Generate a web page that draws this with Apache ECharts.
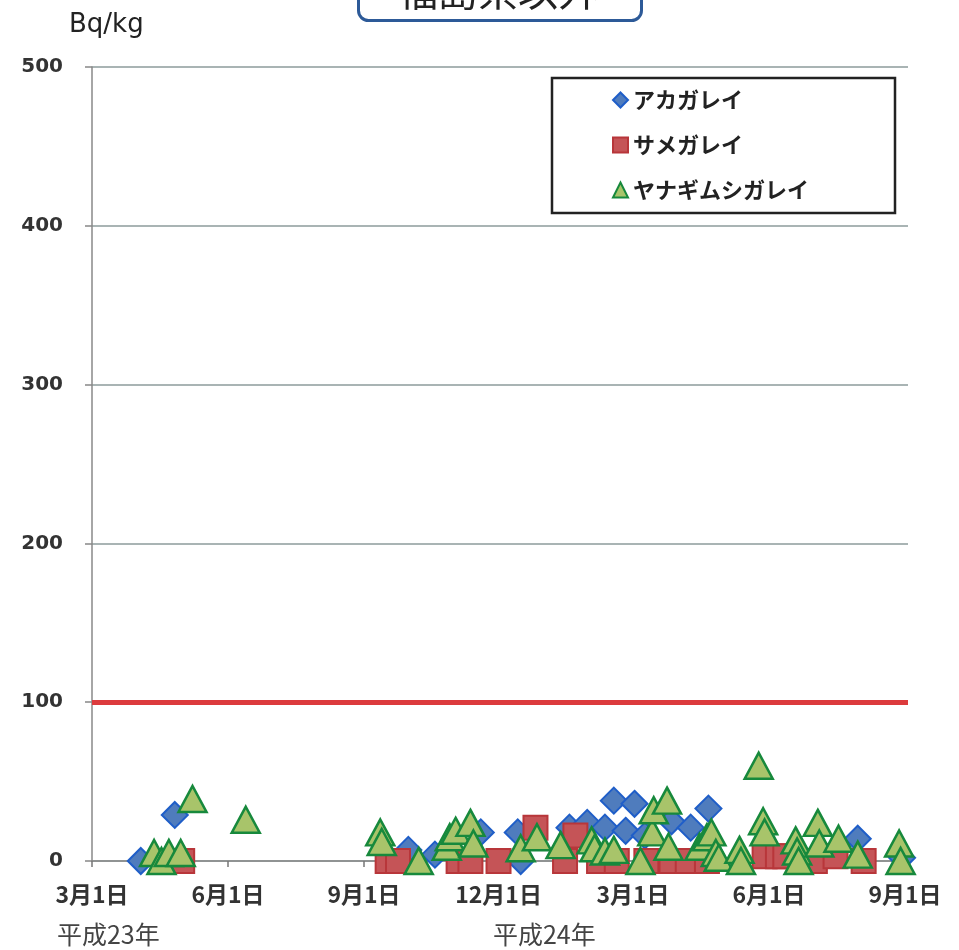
<!DOCTYPE html>
<html><head><meta charset="utf-8">
<script src="https://cdn.jsdelivr.net/npm/echarts@6/dist/echarts.min.js"></script>
<style>html,body{margin:0;padding:0;background:#fff}#c{width:959px;height:950px}</style>
</head><body><div id="c"></div>
<script>
const seriesNames = ['アカガレイ', 'サメガレイ', 'ヤナギムシガレイ'];
const akagarei = [
  ['2011-04-03', 0], ['2011-04-26', 29],
  ['2011-10-01', 7], ['2011-10-19', 4], ['2011-11-19', 18], ['2011-12-14', 18], ['2011-12-16', 0],
  ['2012-01-18', 21], ['2012-01-30', 24], ['2012-02-11', 21], ['2012-02-17', 38], ['2012-02-25', 19],
  ['2012-03-02', 36], ['2012-03-09', 16], ['2012-03-27', 25], ['2012-04-09', 21], ['2012-04-21', 33],
  ['2012-07-31', 14], ['2012-08-30', 2]
];
const samegarei = [
  ['2011-05-01', 0], ['2011-09-17', 0], ['2011-09-24', 0], ['2011-11-04', 0], ['2011-11-12', 0],
  ['2011-12-01', 0], ['2011-12-26', 21], ['2012-01-15', 0], ['2012-01-22', 16], ['2012-02-07', 0],
  ['2012-02-19', 0], ['2012-03-10', 0], ['2012-03-27', 0], ['2012-04-07', 0], ['2012-04-20', 0],
  ['2012-05-29', 3], ['2012-06-07', 3], ['2012-06-12', 3], ['2012-07-02', 0], ['2012-07-16', 3],
  ['2012-08-04', 0]
];
const yanagimushigarei = [
  ['2011-04-12', 5], ['2011-04-17', 0], ['2011-04-22', 5], ['2011-04-30', 5], ['2011-05-08', 39],
  ['2011-06-13', 26], ['2011-09-12', 18], ['2011-09-13', 12], ['2011-10-08', 0], ['2011-10-27', 9],
  ['2011-10-29', 15], ['2011-11-02', 19], ['2011-11-12', 24], ['2011-11-14', 11], ['2011-12-16', 8],
  ['2011-12-27', 15], ['2012-01-12', 10], ['2012-02-02', 13], ['2012-02-04', 8], ['2012-02-11', 6],
  ['2012-02-17', 7], ['2012-03-06', 0], ['2012-03-14', 18], ['2012-03-15', 32], ['2012-03-24', 38],
  ['2012-03-25', 9], ['2012-04-15', 9], ['2012-04-20', 15], ['2012-04-23', 18], ['2012-04-26', 5],
  ['2012-04-28', 2], ['2012-05-12', 7], ['2012-05-13', 0], ['2012-05-25', 60], ['2012-05-28', 25],
  ['2012-05-29', 18], ['2012-06-19', 13], ['2012-06-20', 6], ['2012-06-21', 0], ['2012-07-04', 24],
  ['2012-07-05', 11], ['2012-07-18', 14], ['2012-07-31', 4], ['2012-08-28', 11], ['2012-08-29', 0]
];
const limitValue = 100;
const tickDates = ['2011-03-01', '2011-06-01', '2011-09-01', '2011-12-01', '2012-03-01', '2012-06-01', '2012-09-01'];
const eraDates = ['2011-03-12', '2012-01-01'];
const eraTexts = ['平成23年', '平成24年'];
const xMinDate = '2011-03-01', xMaxDate = '2012-09-03';
const yTicks = [0, 100, 200, 300, 400, 500];
const titleText = '福島県以外';
const unitText = 'Bq/kg';

function ts(s) { const p = s.split('-').map(Number); return new Date(p[0], p[1] - 1, p[2]).getTime(); }
const toPts = arr => arr.map(d => [ts(d[0]), d[1]]);
const tickTs = tickDates.map(ts);
const eraTs = eraDates.map(ts);

const chart = echarts.init(document.getElementById('c'));
const cjk = "'Noto Sans CJK JP', sans-serif";
const latin = "'DejaVu Sans', sans-serif";

chart.setOption({
  animation: false,
  backgroundColor: '#fff',
  grid: { left: 92, right: 51, top: 67, bottom: 89 },
  graphic: [
    { type: 'rect', left: 357, top: -40, shape: { width: 283, height: 59, r: 10 },
      style: { fill: '#fff', stroke: '#2d5a98', lineWidth: 3 } },
    { type: 'text', left: 398, top: -29, style: { text: titleText, font: "40px 'Noto Sans CJK JP'", fill: '#222' } },
    { type: 'text', left: 69, top: 12, style: { text: unitText, font: "26px 'DejaVu Sans'", fill: '#222' } }
  ],
  legend: {
    orient: 'vertical', left: 552, top: 78,
    padding: [11, 86, 12, 60], itemGap: 23, itemWidth: 15, itemHeight: 15,
    borderColor: '#222', borderWidth: 2.5, backgroundColor: '#fff',
    textStyle: { fontFamily: cjk, fontSize: 22, fontWeight: 'bold', color: '#222', lineHeight: 22 },
    data: [
      { name: seriesNames[0], icon: 'diamond' },
      { name: seriesNames[1], icon: 'rect' },
      { name: seriesNames[2], icon: 'triangle' }
    ]
  },
  xAxis: [
    { type: 'value', min: ts(xMinDate), max: ts(xMaxDate),
      axisLine: { lineStyle: { color: '#888', width: 1.5 } },
      axisTick: { show: true, customValues: tickTs, length: 6, lineStyle: { color: '#777', width: 1.5 } },
      axisLabel: { customValues: tickTs, margin: 22, fontFamily: cjk, fontSize: 23, fontWeight: 'bold', color: '#333',
        formatter: function (v) { const d = new Date(v); return (d.getMonth() + 1) + '月' + d.getDate() + '日'; } },
      splitLine: { show: false } },
    { type: 'value', min: ts(xMinDate), max: ts(xMaxDate), position: 'bottom',
      axisLine: { show: false }, axisTick: { show: false }, splitLine: { show: false },
      axisLabel: { customValues: eraTs, margin: 61, fontFamily: cjk, fontSize: 25, color: '#444',
        formatter: function (v) { const i = eraTs.indexOf(v); return i >= 0 ? eraTexts[i] : ''; } } }
  ],
  yAxis: {
    type: 'value', min: yTicks[0], max: yTicks[yTicks.length - 1], interval: 100,
    axisLine: { show: true, lineStyle: { color: '#888', width: 1.5 } },
    axisTick: { show: true, length: 7, lineStyle: { color: '#888', width: 1.5 } },
    axisLabel: { margin: 29, fontFamily: latin, fontSize: 20, fontWeight: 'bold', color: '#333' },
    splitLine: { lineStyle: { color: '#8d9b9b', width: 1.5 } }
  },
  series: [
    { name: 'limit', type: 'line', data: [], silent: true,
      markLine: { silent: true, symbol: 'none', label: { show: false },
        lineStyle: { color: '#dc3b3d', width: 5, type: 'solid' }, data: [{ yAxis: limitValue }] } },
    { name: seriesNames[0], type: 'scatter', data: toPts(akagarei), symbol: 'diamond', symbolSize: 26,
      itemStyle: { color: '#4f7cbd', borderColor: '#1f5ec8', borderWidth: 2, opacity: 1 } },
    { name: seriesNames[1], type: 'scatter', data: toPts(samegarei), symbol: 'rect', symbolSize: 24,
      itemStyle: { color: '#c55457', borderColor: '#b8363a', borderWidth: 2, opacity: 1 } },
    { name: seriesNames[2], type: 'scatter', data: toPts(yanagimushigarei), symbol: 'triangle', symbolSize: [28, 26],
      itemStyle: { color: '#a8c46a', borderColor: '#17893c', borderWidth: 2.5, opacity: 1 } }
  ]
});
</script>
</body></html>
